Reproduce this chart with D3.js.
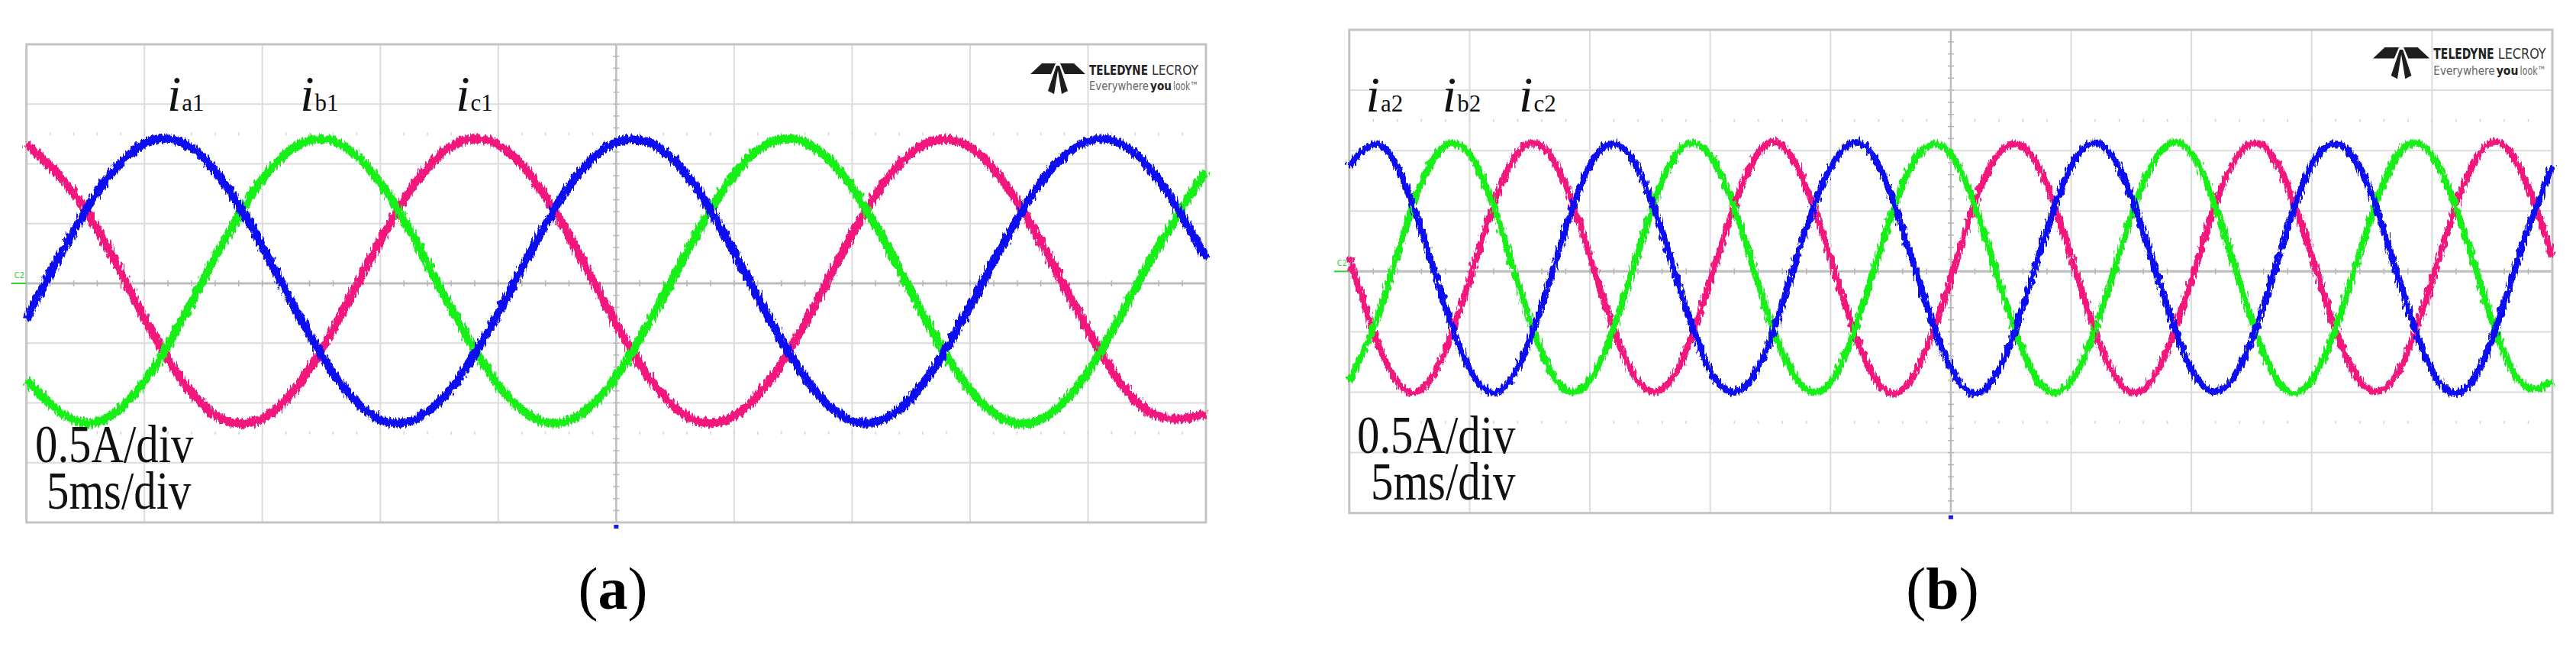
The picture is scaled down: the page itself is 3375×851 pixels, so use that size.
<!DOCTYPE html>
<html>
<head>
<meta charset="utf-8">
<script src="https://cdn.jsdelivr.net/npm/d3@7"></script>
<style>
  body { margin: 0; background: #fff; }
</style>
</head>
<body>
<div id="chart"></div>
<script>
// ---- data (time in ms, current in A) ----
var timeA = [0, 2.5, 5, 7.5, 10, 12.5, 15, 17.5, 20, 22.5, 25, 27.5, 30, 32.5, 35, 37.5, 40, 42.5, 45, 47.5, 50];
var ia1 = [-0.30, 0.61, 1.17, 1.05, 0.31, -0.60, -1.14, -0.99, -0.25, 0.66, 1.18, 1.02, 0.26, -0.64, -1.15, -0.96, -0.19, 0.70, 1.19, 0.99, 0.21];
var ib1 = [-0.81, -1.17, -0.82, 0.03, 0.87, 1.21, 0.84, -0.02, -0.85, -1.17, -0.78, 0.08, 0.91, 1.21, 0.80, -0.07, -0.89, -1.17, -0.74, 0.14, 0.94];
var ic1 = [1.17, 0.62, -0.29, -1.02, -1.13, -0.56, 0.36, 1.07, 1.16, 0.57, -0.34, -1.04, -1.11, -0.51, 0.41, 1.09, 1.14, 0.52, -0.39, -1.06, -1.09];

var timeB = [0, 1.25, 2.5, 3.75, 5, 6.25, 7.5, 8.75, 10, 11.25, 12.5, 13.75, 15, 16.25, 17.5, 18.75,
             20, 21.25, 22.5, 23.75, 25, 26.25, 27.5, 28.75, 30, 31.25, 32.5, 33.75, 35, 36.25, 37.5, 38.75,
             40, 41.25, 42.5, 43.75, 45, 46.25, 47.5, 48.75, 50];
var ia2 = [0.87, 1.05, 0.63, -0.14, -0.81, -0.99, -0.57, 0.20, 0.88, 1.04, 0.62, -0.15, -0.82, -0.98, -0.56, 0.21,
           0.86, 1.06, 0.64, -0.13, -0.80, -1.00, -0.58, 0.19, 0.87, 1.05, 0.62, -0.14, -0.81, -0.98, -0.57, 0.20,
           0.88, 1.04, 0.63, -0.15, -0.82, -0.99, -0.56, 0.21, 0.87];
var ib2 = [-0.91, -0.33, 0.46, 1.00, 0.97, 0.39, -0.40, -0.94, -0.90, -0.32, 0.47, 1.01, 0.96, 0.38, -0.41, -0.93,
           -0.92, -0.34, 0.45, 0.99, 0.97, 0.40, -0.39, -0.94, -0.91, -0.33, 0.46, 1.00, 0.98, 0.39, -0.40, -0.95,
           -0.90, -0.32, 0.47, 1.01, 0.96, 0.38, -0.41, -0.93, -0.91];
var ic2 = [0.12, -0.63, -1.00, -0.76, -0.07, 0.69, 1.06, 0.82, 0.13, -0.62, -0.99, -0.77, -0.08, 0.68, 1.07, 0.81,
           0.11, -0.64, -1.01, -0.75, -0.06, 0.70, 1.05, 0.83, 0.12, -0.63, -1.00, -0.76, -0.07, 0.69, 1.06, 0.82,
           0.13, -0.62, -0.99, -0.77, -0.08, 0.68, 1.07, 0.81, 0.12];

// phase subscripts and where (in ms) each label starts
var namesA = ["a1", "b1", "c1"];
var namesB = ["a2", "b2", "c2"];
var labelTimeA = [5.96, 11.6, 18.2];
var labelTimeB = [0.69, 3.87, 7.05];

// scope grid: 10 x 5 ms, 8 x 0.5 A
var gridTimes = [0, 5, 10, 15, 20, 25, 30, 35, 40, 45, 50];
var gridAmps = [-2, -1.5, -1, -0.5, 0, 0.5, 1, 1.5, 2];
var scaleTexts = ["0.5A/div", "5ms/div"];
var captions = ["a", "b"];

var phaseColors = ["#0b0bf2", "#12f012", "#f3137d"];

var svg = d3.select("#chart").append("svg")
    .attr("width", 3375)
    .attr("height", 851)
    .style("display", "block");

svg.append("rect").attr("width", 3375).attr("height", 851).attr("fill", "#fff");

// switching ripple look on the traces
var defs = svg.append("defs");
var rip = defs.append("filter").attr("id", "ripple")
    .attr("filterUnits", "userSpaceOnUse")
    .attr("x", 0).attr("y", 0).attr("width", 3375).attr("height", 851);
rip.append("feTurbulence")
    .attr("type", "fractalNoise")
    .attr("baseFrequency", "0.45 0.12")
    .attr("numOctaves", 1)
    .attr("seed", 3)
    .attr("result", "n");
rip.append("feDisplacementMap")
    .attr("in", "SourceGraphic").attr("in2", "n")
    .attr("scale", 12)
    .attr("xChannelSelector", "G").attr("yChannelSelector", "R");

var panels = [
  { left: 34.7, right: 1580, top: 58, bottom: 684, time: timeA, series: [ia1, ib1, ic1], names: namesA,
    labelTime: labelTimeA, labelBase: 145, stroke: 11, caption: captions[0], captionX: 803,
    textX: 46, textY: 605, textDx: 15, logo: [1350, 83, 1] },
  { left: 1767.8, right: 3344, top: 39, bottom: 671.7, time: timeB, series: [ia2, ib2, ic2], names: namesB,
    labelTime: labelTimeB, labelBase: 146, stroke: 8.5, caption: captions[1], captionX: 2545,
    textX: 1778, textY: 593, textDx: 18, logo: [3109, 62, 1.03] }
];

panels.forEach(drawScope);

function drawScope(p) {
  var x = d3.scaleLinear().domain([0, 50]).range([p.left, p.right]);
  var y = d3.scaleLinear().domain([-2, 2]).range([p.bottom, p.top]);
  var g = svg.append("g");

  // grid
  g.selectAll(".vgrid").data(gridTimes).enter().append("line")
    .attr("x1", d => x(d)).attr("x2", d => x(d))
    .attr("y1", y(2)).attr("y2", y(-2))
    .attr("stroke", d => d === 25 ? "#bdbdbd" : "#dcdcdc")
    .attr("stroke-width", d => d === 25 ? 2.5 : 2);
  g.selectAll(".hgrid").data(gridAmps).enter().append("line")
    .attr("x1", x(0)).attr("x2", x(50))
    .attr("y1", d => y(d)).attr("y2", d => y(d))
    .attr("stroke", d => d === 0 ? "#bdbdbd" : "#dcdcdc")
    .attr("stroke-width", d => d === 0 ? 3 : 2);

  // minor ticks on the centre lines
  var minorT = d3.range(1, 50, 1);
  var minorA = d3.range(-1.9, 2, 0.1);
  g.selectAll(".tx").data(minorT).enter().append("line")
    .attr("x1", d => x(d)).attr("x2", d => x(d))
    .attr("y1", y(0) - 4).attr("y2", y(0) + 4)
    .attr("stroke", "#b5b5b5").attr("stroke-width", 1.5);
  g.selectAll(".ty").data(minorA).enter().append("line")
    .attr("x1", x(25) - 4).attr("x2", x(25) + 4)
    .attr("y1", d => y(d)).attr("y2", d => y(d))
    .attr("stroke", "#b5b5b5").attr("stroke-width", 1.5);

  // faint dotted rows at +/- 2.5 div
  [1.25, -1.25].forEach(function(a) {
    g.selectAll(null).data(minorT).enter().append("line")
      .attr("x1", d => x(d)).attr("x2", d => x(d))
      .attr("y1", y(a) - 2).attr("y2", y(a) + 2)
      .attr("stroke", "#d4d4d4").attr("stroke-width", 1.5);
  });

  // frame
  g.append("rect")
    .attr("x", x(0)).attr("y", y(2))
    .attr("width", x(50) - x(0)).attr("height", y(-2) - y(2))
    .attr("fill", "none").attr("stroke", "#c4c4c4").attr("stroke-width", 3);

  // channel marker and trigger marker
  g.append("line")
    .attr("x1", x(0) - 20).attr("x2", x(0))
    .attr("y1", y(0)).attr("y2", y(0))
    .attr("stroke", "#2fd02f").attr("stroke-width", 2);
  g.append("text")
    .attr("x", x(0) - 16).attr("y", y(0) - 7)
    .attr("font-family", "DejaVu Sans, sans-serif").attr("font-size", 10)
    .attr("fill", "#2fd02f").text("C2");
  g.append("rect")
    .attr("x", x(25) - 3).attr("y", y(-2) + 3)
    .attr("width", 6).attr("height", 5).attr("fill", "#1818e8");

  // waveforms
  var line = d3.line()
    .x(d => x(d[0]))
    .y(d => y(d[1]))
    .curve(d3.curveNatural);
  var traces = g.append("g").attr("filter", "url(#ripple)");
  [2, 1, 0].forEach(function(k) {
    var pts = p.time.map((t, i) => [t, p.series[k][i]]);
    traces.append("path")
      .attr("d", line(pts))
      .attr("fill", "none")
      .attr("stroke", phaseColors[k])
      .attr("stroke-width", p.stroke)
      .attr("stroke-linejoin", "round");
  });

  // phase labels
  p.names.forEach(function(n, k) {
    var t = g.append("text")
      .attr("x", x(p.labelTime[k]))
      .attr("y", p.labelBase)
      .attr("font-family", "Liberation Serif, Times New Roman, serif")
      .attr("fill", "#111");
    t.append("tspan").attr("font-style", "italic").attr("font-size", 66).text("i");
    t.append("tspan").attr("font-size", 31).attr("dx", 1).text(n);
  });

  // scale text, narrowed like the scope screenshot
  scaleTexts.forEach(function(s, k) {
    g.append("text")
      .attr("transform", "translate(" + (p.textX + (k === 0 ? 0 : p.textDx)) + "," + (p.textY + k * 61) + ") scale(0.84,1)")
      .attr("font-family", "Liberation Serif, Times New Roman, serif")
      .attr("font-size", 70)
      .attr("fill", "#111")
      .text(s);
  });

  drawLogo(g, p.logo[0], p.logo[1], p.logo[2]);

  // caption
  var c = svg.append("text")
    .attr("x", p.captionX).attr("y", 797)
    .attr("text-anchor", "middle")
    .attr("font-family", "Liberation Serif, Times New Roman, serif")
    .attr("font-size", 78)
    .attr("fill", "#000");
  c.append("tspan").text("(");
  c.append("tspan").attr("font-weight", "bold").text(p.caption);
  c.append("tspan").text(")");
}

function drawLogo(g, lx, ly, s) {
  var lg = g.append("g").attr("transform", "translate(" + lx + "," + ly + ") scale(" + s + ")");
  var shapes = [
    [[15, 0], [33, 0], [27, 14], [0, 14]],
    [[39, 0], [57, 0], [72, 14], [45, 14]],
    [[34, 3], [37, 3], [31, 40], [23, 36]],
    [[35, 3], [38, 3], [49, 36], [41, 40]]
  ];
  lg.selectAll("polygon").data(shapes).enter().append("polygon")
    .attr("points", d => d.map(q => q.join(",")).join(" "))
    .attr("fill", "#1e1e1e");
  var font = "Liberation Sans Narrow, DejaVu Sans Condensed, Liberation Sans, sans-serif";
  var words = [
    { t: "TELEDYNE", x: 77, y: 15, len: 77, size: 18, w: "bold", c: "#222" },
    { t: "LECROY", x: 159, y: 15, len: 61, size: 18, w: "normal", c: "#333" },
    { t: "Everywhere", x: 77, y: 35, len: 78, size: 15, w: "normal", c: "#666" },
    { t: "you", x: 157, y: 35, len: 28, size: 15, w: "bold", c: "#222" },
    { t: "look\u2122", x: 187, y: 35, len: 33, size: 15, w: "normal", c: "#666" }
  ];
  // squeeze each word to its width with a transform so its box matches the ink
  lg.selectAll("text").data(words).enter().append("text")
    .attr("font-family", font)
    .attr("font-size", d => d.size)
    .attr("font-weight", d => d.w)
    .attr("fill", d => d.c)
    .text(d => d.t)
    .each(function(d) {
      var natural = this.getComputedTextLength() || d.len;
      d3.select(this).attr("transform",
        "translate(" + d.x + "," + d.y + ") scale(" + (d.len / natural) + ",1)");
    });
}
</script>
</body>
</html>
